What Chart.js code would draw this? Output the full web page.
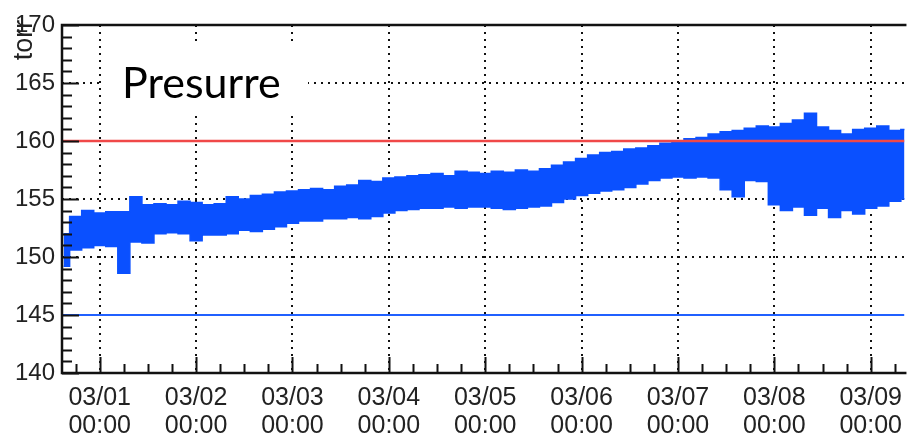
<!DOCTYPE html>
<html>
<head>
<meta charset="utf-8">
<script src="https://cdn.jsdelivr.net/npm/chart.js@4.4.1/dist/chart.umd.min.js"></script>
<style>
  html, body { margin: 0; padding: 0; background: #fff; }
  #wrap { width: 913px; height: 437px; }
</style>
</head>
<body>
<div id="wrap"><canvas id="pressureChart"></canvas></div>
<script>
// hours since 03/01 00:00
const hours = [-9, -6, -3, 0, 3, 6, 9, 12, 15, 18, 21, 24, 27, 30, 33, 36, 39, 42, 45, 48,
  51, 54, 57, 60, 63, 66, 69, 72, 75, 78, 81, 84, 87, 90, 93, 96, 99, 102, 105, 108,
  111, 114, 117, 120, 123, 126, 129, 132, 135, 138, 141, 144, 147, 150, 153, 156, 159, 162, 165, 168,
  171, 174, 177, 180, 183, 186, 189, 192, 195, 198, 201];
// upper / lower edge of the pressure band (torr)
const upper = [152.0, 153.5, 154.0, 153.8, 153.9, 153.9, 155.2, 154.5, 154.6, 154.5, 154.8, 154.7, 154.5, 154.6, 155.2, 155.0, 155.3, 155.4, 155.6, 155.7,
  155.8, 155.9, 155.8, 156.1, 156.2, 156.6, 156.5, 156.8, 156.9, 157.0, 157.1, 157.2, 157.0, 157.4, 157.3, 157.2, 157.4, 157.3, 157.5, 157.4,
  157.6, 157.9, 158.2, 158.5, 158.8, 159.0, 159.1, 159.3, 159.4, 159.6, 159.8, 159.9, 160.2, 160.3, 160.6, 160.8, 160.9, 161.1, 161.3, 161.2,
  161.5, 161.8, 162.4, 161.2, 160.9, 160.6, 161.0, 161.1, 161.3, 160.9, 161.0];
const lower = [149.2, 150.6, 150.8, 151.0, 150.9, 148.6, 151.3, 151.2, 152.0, 152.1, 152.0, 151.4, 151.9, 151.9, 152.0, 152.3, 152.2, 152.4, 152.6, 152.9,
  153.1, 153.1, 153.3, 153.3, 153.4, 153.3, 153.5, 153.8, 154.0, 154.1, 154.2, 154.2, 154.3, 154.2, 154.3, 154.3, 154.2, 154.1, 154.2, 154.3,
  154.4, 154.7, 155.0, 155.3, 155.5, 155.7, 155.8, 156.0, 156.3, 156.6, 156.8, 156.9, 156.8, 156.9, 156.8, 155.8, 155.2, 156.6, 156.5, 154.5,
  154.0, 154.3, 153.6, 154.2, 153.4, 154.0, 153.7, 154.2, 154.4, 154.8, 155.0];
const dayLabels = ['03/01', '03/02', '03/03', '03/04', '03/05', '03/06', '03/07', '03/08', '03/09'];
const timeLabel = '00:00';
const yTicks = [140, 145, 150, 155, 160, 165, 170];
const highLimit = 160;
const lowLimit = 145;
const xMin = -9.4;
const xMax = 200.4;

const bandColor = '#0a50ff';
const dayTicks = dayLabels.map((d, i) => i * 24);

// ROOT style frame, inward ticks, axis title and the title box
const rootFrame = {
    id: 'rootFrame',
    afterDatasetsDraw(chart) {
        const { ctx, chartArea: a, scales: { x, y } } = chart;
        ctx.save();
        // title box
        ctx.fillStyle = '#fff';
        ctx.fillRect(103, 42, 205, 70);
        ctx.fillStyle = '#000';
        ctx.font = '43px Lato';
        ctx.textBaseline = 'alphabetic';
        ctx.fillText('Presurre', 122, 98);

        // y axis title
        ctx.save();
        ctx.translate(32, 40);
        ctx.rotate(-Math.PI / 2);
        ctx.fillStyle = '#222';
        ctx.font = '27px "Liberation Sans"';
        ctx.textAlign = 'center';
        ctx.textBaseline = 'alphabetic';
        ctx.fillText('torr', 0, 0);
        ctx.restore();

        ctx.strokeStyle = '#111';
        ctx.lineWidth = 2;
        ctx.beginPath();
        // y ticks
        for (let v = yTicks[0]; v <= yTicks[yTicks.length - 1]; v += 1) {
            const py = Math.round(y.getPixelForValue(v)) + 0.5;
            const len = v % 5 === 0 ? 17 : 10;
            ctx.moveTo(a.left, py);
            ctx.lineTo(a.left + len, py);
        }
        // x ticks every 6 hours
        for (let h = -6; h <= xMax; h += 6) {
            const px = Math.round(x.getPixelForValue(h)) + 0.5;
            const len = h % 24 === 0 ? 16 : 9;
            ctx.moveTo(px, a.bottom);
            ctx.lineTo(px, a.bottom - len);
        }
        ctx.stroke();

        // frame
        ctx.lineWidth = 2.5;
        ctx.strokeStyle = '#111';
        ctx.beginPath();
        ctx.moveTo(a.right + 2, a.top);
        ctx.lineTo(a.left, a.top);
        ctx.lineTo(a.left, a.bottom);
        ctx.lineTo(a.right + 2, a.bottom);
        ctx.stroke();
        ctx.restore();
    }
};

const ctx = document.getElementById('pressureChart');
new Chart(ctx, {
    type: 'line',
    data: {
        datasets: [
            {
                label: 'high limit',
                data: [{ x: xMin, y: highLimit }, { x: xMax, y: highLimit }],
                borderColor: '#f04848',
                borderWidth: 2.5,
                pointRadius: 0,
                order: 0
            },
            {
                label: 'low limit',
                data: [{ x: xMin, y: lowLimit }, { x: xMax, y: lowLimit }],
                borderColor: '#2060ff',
                borderWidth: 2,
                pointRadius: 0,
                order: 0
            },
            {
                label: 'lower',
                data: hours.map((h, i) => ({ x: h, y: lower[i] })),
                borderColor: bandColor,
                borderWidth: 1.5,
                pointRadius: 0,
                stepped: 'middle',
                fill: false,
                order: 2
            },
            {
                label: 'upper',
                data: hours.map((h, i) => ({ x: h, y: upper[i] })),
                borderColor: bandColor,
                backgroundColor: bandColor,
                borderWidth: 1.5,
                pointRadius: 0,
                stepped: 'middle',
                fill: '-1',
                order: 1
            }
        ]
    },
    options: {
        responsive: true,
        maintainAspectRatio: false,
        animation: false,
        layout: { padding: { top: 25, right: 0, left: 0, bottom: 0 } },
        plugins: {
            legend: { display: false },
            tooltip: { enabled: false },
            filler: { propagate: false }
        },
        scales: {
            x: {
                type: 'linear',
                min: xMin,
                max: xMax,
                afterBuildTicks: (scale) => {
                    scale.ticks = dayTicks.map(v => ({ value: v }));
                },
                afterFit: (scale) => { scale.height = 64; },
                grid: {
                    color: '#111',
                    lineWidth: 2,
                    drawTicks: false
                },
                border: { display: false, dash: [2, 5] },
                ticks: {
                    autoSkip: false,
                    maxRotation: 0,
                    padding: 11,
                    color: '#222',
                    font: { family: 'Liberation Sans', size: 25, lineHeight: 1.12 },
                    callback: (v) => {
                        const i = dayTicks.indexOf(v);
                        return i >= 0 ? [dayLabels[i], timeLabel] : '';
                    }
                }
            },
            y: {
                min: yTicks[0],
                max: yTicks[yTicks.length - 1],
                afterBuildTicks: (scale) => {
                    scale.ticks = yTicks.map(v => ({ value: v }));
                },
                afterFit: (scale) => { scale.width = 62; },
                grid: {
                    color: '#111',
                    lineWidth: 2,
                    drawTicks: false
                },
                border: { display: false, dash: [2, 5] },
                ticks: {
                    padding: 7,
                    color: '#222',
                    font: { family: 'Liberation Sans', size: 24 }
                }
            }
        }
    },
    plugins: [rootFrame]
});
</script>
</body>
</html>
